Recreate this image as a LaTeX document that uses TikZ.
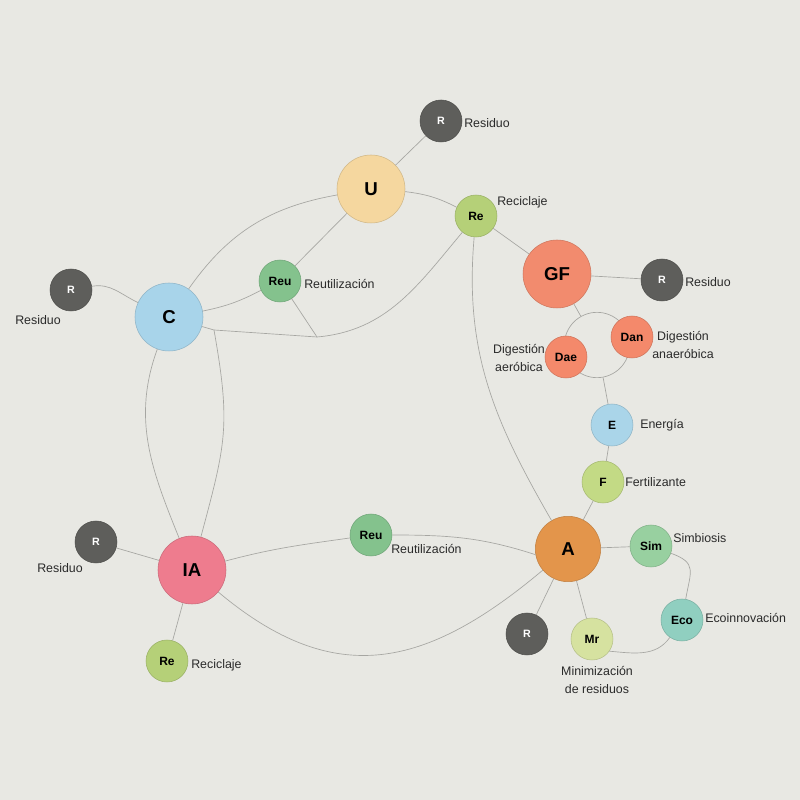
\documentclass[tikz,border=0pt]{standalone}
\usepackage{fontspec}
\setmainfont{Liberation Sans}
\definecolor{paper}{HTML}{E8E8E3}
\definecolor{pencil}{HTML}{A6A6A2}
\definecolor{ink}{HTML}{2A2A2A}
\definecolor{cRes}{HTML}{5E5E5B}
\definecolor{cU}{HTML}{F5D79F}
\definecolor{cRe}{HTML}{B5D078}
\definecolor{cGF}{HTML}{F28B6E}
\definecolor{cDig}{HTML}{F4896B}
\definecolor{cReu}{HTML}{84C28D}
\definecolor{cC}{HTML}{A8D4EA}
\definecolor{cE}{HTML}{AAD5E9}
\definecolor{cF}{HTML}{C3DA85}
\definecolor{cA}{HTML}{E3954B}
\definecolor{cSim}{HTML}{98D0A0}
\definecolor{cEco}{HTML}{90CFC0}
\definecolor{cMr}{HTML}{D6E2A0}
\definecolor{cIA}{HTML}{EE7C8E}
\tikzset{
  wc/.style = {circle, inner sep=0pt, text centered, text=black,
    fill=#1, draw=#1!85!black, line width=0.4pt},
  wc_s/.style = {wc=#1, minimum size=31.5pt,
    font=\bfseries\fontsize{9}{10}\selectfont},
  wc_l/.style = {wc=#1, minimum size=51pt,
    font=\bfseries\fontsize{14}{16}\selectfont},
  wc_r/.style = {wc_s=cRes, text=white,
    font=\bfseries\fontsize{8}{9}\selectfont},
  lbl/.style = {font=\fontsize{9.3}{13}\selectfont, text=ink, align=center,
    inner sep=0pt},
  pencil_ln/.style = {draw=pencil, line width=0.5pt},
  ring_c/.style = {circle, draw=pencil, line width=0.5pt, minimum size=49pt,
    inner sep=0pt}
}
\begin{document}
\begin{tikzpicture}[x=0.75pt,y=0.75pt]
\useasboundingbox (0,0) rectangle (800,800);
\fill[paper] (0,0) rectangle (800,800);

\node [ring_c] (ring) at (597,455) {};

\node [wc_r] (Rt) at (441,679) {R};
\node [wc_l=cU] (U) at (371,611) {U};
\node [wc_s=cRe] (ReT) at (476,584) {Re};
\node [wc_l=cGF] (GF) at (557,526) {GF};
\node [wc_r] (Rr) at (662,520) {R};
\node [wc_s=cReu] (ReuT) at (280,519) {Reu};
\node [wc_l=cC] (C) at (169,483) {C};
\node [wc_r] (Rl) at (71,510) {R};
\node [wc_s=cDig] (Dan) at (632,463) {Dan};
\node [wc_s=cDig] (Dae) at (566,443) {Dae};
\node [wc_s=cE] (E) at (612,375) {E};
\node [wc_s=cF] (F) at (603,318) {F};
\node [wc_l=cA, minimum size=49pt] (A) at (568,251) {A};
\node [wc_s=cSim] (Sim) at (651,254) {Sim};
\node [wc_s=cEco] (Eco) at (682,180) {Eco};
\node [wc_s=cMr] (Mr) at (592,161) {Mr};
\node [wc_r] (Rb) at (527,166) {R};
\node [wc_s=cReu] (ReuM) at (371,265) {Reu};
\node [wc_l=cIA] (IA) at (192,230) {IA};
\node [wc_r] (Rlb) at (96,258) {R};
\node [wc_s=cRe] (ReB) at (167,139) {Re};

\coordinate (K) at (214,470);
\coordinate (J) at (317,463);

\node [lbl, anchor=west] (Rt_t) at (464,677) {Residuo};
\node [lbl, anchor=west] (ReT_t) at (497,598) {Reciclaje};
\node [lbl, anchor=west] (Rr_t) at (685,518) {Residuo};
\node [lbl] (Dan_t) at (683,455) {Digestión\\anaeróbica};
\node [lbl] (Dae_t) at (519,442) {Digestión\\aeróbica};
\node [lbl, anchor=west] (ReuT_t) at (304,516) {Reutilización};
\node [lbl, anchor=west] (Rl_t) at (15,480) {Residuo};
\node [lbl, anchor=west] (E_t) at (640,375) {Energía};
\node [lbl, anchor=west] (F_t) at (625,318) {Fertilizante};
\node [lbl, anchor=west] (Sim_t) at (673,262) {Simbiosis};
\node [lbl, anchor=west] (Eco_t) at (705,182) {Ecoinnovación};
\node [lbl] (Mr_t) at (597,120) {Minimización\\de residuos};
\node [lbl, anchor=west] (ReuM_t) at (391,251) {Reutilización};
\node [lbl, anchor=west] (Rlb_t) at (37,232) {Residuo};
\node [lbl, anchor=west] (ReB_t) at (191,135) {Reciclaje};

\draw [pencil_ln] (Rt) -- (U);
\draw [pencil_ln] (C) to[out=55,in=190] (U);
\draw [pencil_ln] (U) -- (ReuT);
\draw [pencil_ln] (U) to[bend left=10] (ReT);
\draw [pencil_ln] (ReT) -- (GF);
\draw [pencil_ln] (GF) -- (Rr);
\draw [pencil_ln] (GF) -- (ring);
\draw [pencil_ln] (ring) -- (E);
\draw [pencil_ln] (E) -- (F);
\draw [pencil_ln] (F) -- (A);
\draw [pencil_ln] (Rl) to[out=10,in=155] (C);
\draw [pencil_ln] (C) to[bend right=8] (ReuT);
\draw [pencil_ln] (C) -- (K) -- (J) to[out=5,in=-130] (ReT);
\draw [pencil_ln] (ReuT) -- (J);
\draw [pencil_ln] (C) to[out=-110,in=112] (IA);
\draw [pencil_ln] (K) to[out=-80,in=75,looseness=1.2] (IA);
\draw [pencil_ln] (ReT) to[out=-95,in=120] (A);
\draw [pencil_ln] (IA) to[out=15,in=188] (ReuM);
\draw [pencil_ln] (ReuM) to[out=0,in=162] (A.190);
\draw [pencil_ln] (IA) to[out=-40,in=-140,looseness=1.2] (A);
\draw [pencil_ln] (Rlb) -- (IA);
\draw [pencil_ln] (IA) -- (ReB);
\draw [pencil_ln] (A) -- (Sim);
\draw [pencil_ln] (Sim.-20) to[out=-20,in=80,looseness=1.5] (Eco.80);
\draw [pencil_ln] (Eco.-125) to[out=-125,in=-5] (Mr.-35);
\draw [pencil_ln] (A) -- (Mr);
\draw [pencil_ln] (A) -- (Rb);
\end{tikzpicture}
\end{document}
